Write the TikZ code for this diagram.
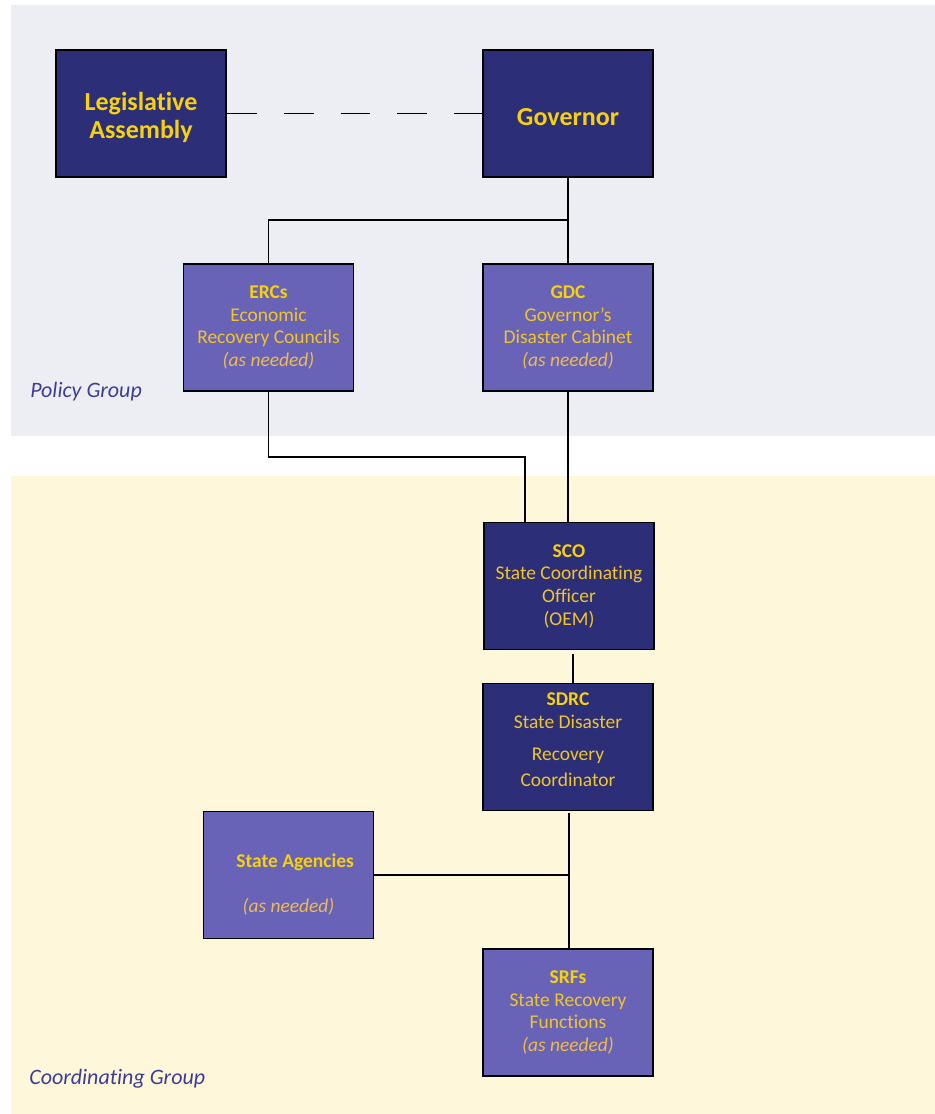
\documentclass[tikz,border=0pt]{standalone}
\usepackage{fontspec}
\setmainfont{Carlito}[Ligatures=NoCommon]
\usetikzlibrary{calc}

\definecolor{policybg}{HTML}{EDEEF3}
\definecolor{coordbg}{HTML}{FFF7DA}
\definecolor{darkfill}{HTML}{2C2E78}
\definecolor{lightfill}{HTML}{6963B8}
\definecolor{titlegold}{HTML}{F6D10C}
\definecolor{bodygold}{HTML}{F0C52A}
\definecolor{italgold}{HTML}{EDBB4E}
\definecolor{labelblue}{HTML}{3C3E98}

\newcommand\orghead[1]{{\bfseries\color{titlegold}#1}}
\newcommand\asneeded{{\itshape\color{italgold}(as needed)}}

\begin{document}
\begin{tikzpicture}[x=0.75pt,y=-0.75pt,
  orgbox/.style={draw=black, line width=1.4pt, minimum width=127.5pt,
    minimum height=95.25pt, inner sep=2pt, align=center, text=bodygold,
    font=\fontsize{14.6}{17}\selectfont},
  darkbox/.style={orgbox, fill=darkfill},
  lightbox/.style={orgbox, fill=lightfill},
  topbox/.style={darkbox, text=titlegold,
    font=\fontsize{19.5}{21}\selectfont\bfseries},
  link/.style={draw=black, line width=1.1pt},
  grouplabel/.style={text=labelblue, anchor=west, inner sep=0pt,
    font=\fontsize{16.5}{20}\selectfont\itshape}]

\useasboundingbox (0,0) rectangle (935,1114);

% group bands
\fill[policybg] (11,5) rectangle (935,436);
\fill[coordbg] (11,476) rectangle (935,1114);

\node[grouplabel] (policy) at (30,392) {Policy Group};
\node[grouplabel] (coord) at (29,1079) {Coordinating Group};

% policy group
\node[topbox] (leg) at (141,113.5) {\mbox{}\\[-2pt]Legislative\\Assembly};
\node[topbox] (gov) at (568,113.5) {\mbox{}\\[-3pt]Governor};
\node[lightbox] (ercs) at (268.5,327.5)
  {\orghead{ERCs}\\Economic\\Recovery Councils\\\asneeded};
\node[lightbox] (gdc) at (568,327.5)
  {\orghead{GDC}\\Governor’s\\Disaster Cabinet\\\asneeded};

% coordinating group
\node[darkbox] (sco) at (569,586)
  {\orghead{SCO}\\State Coordinating\\Officer\\(OEM)};
\node[darkbox] (sdrc) at (568,747)
  {\orghead{SDRC}\\State Disaster\\[7pt]Recovery\\[2.6pt]Coordinator\\[-6pt]\mbox{}};
\node[lightbox] (agencies) at (288.5,875)
  {\mbox{}\\[8pt]\hspace*{10pt}\orghead{State Agencies}\\[16.75pt]\asneeded};
\node[lightbox] (srfs) at (568,1012.5)
  {\orghead{SRFs}\\State Recovery\\Functions\\\asneeded};

% connectors
\draw[link, dash pattern=on 22.4pt off 20.2pt] (leg.east) -- (gov.west);
\coordinate (split) at (568,220);
\draw[link] (gov.south) -- (gdc.north);
\draw[link] (split) -| (ercs.north);
\draw[link] (gdc.south) -- (gdc.south |- sco.north);
\coordinate (ercsbend) at (525,457);
\draw[link] (ercs.south) |- (ercsbend) -- (ercsbend |- sco.north);
\draw[link] ($(sco.south)+(4,4)$) -- ($(sdrc.north)+(5,0)$);
\coordinate (trunk) at ($(srfs.north)+(1,0)$);
\draw[link] ($(sdrc.south)+(1,2)$) -- (trunk);
\draw[link] (agencies.east) -- (agencies.east -| trunk);

\end{tikzpicture}
\end{document}
